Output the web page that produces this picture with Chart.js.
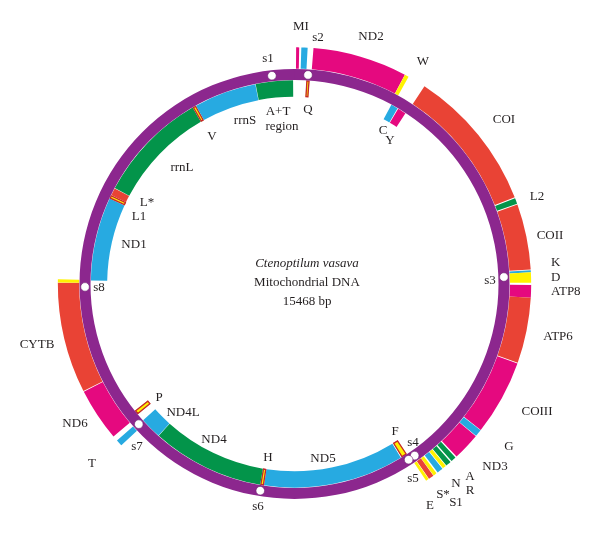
<!DOCTYPE html>
<html>
<head>
<meta charset="utf-8">
<script src="https://cdn.jsdelivr.net/npm/chart.js@4.4.0/dist/chart.umd.min.js"></script>
<style>
  html, body { margin: 0; background: #fff; }
</style>
</head>
<body>
<canvas id="map" width="600" height="549"></canvas>
<script>
const genomeLength = 15468;

// genes drawn outside the purple ring (start / end in bp, clockwise from top)
const outerNames = ['M', 'I', 'ND2', 'W', 'COI', 'L2', 'COII', 'K', 'D', 'ATP8', 'ATP6', 'COIII', 'G', 'ND3',
                    'A', 'R', 'N', 'S1', 'S*', 'E', 'e2', 'T', 'ND6', 'CYTB', 'S2'];
const outerStart = [17, 71, 198, 1196, 1431, 2953, 3024, 3724, 3746, 3877, 4010, 4709, 5508, 5586,
                    5893, 5962, 6026, 6072, 6150, 6190, 6251, 9754, 9878, 10445, 11616];
const outerEnd   = [49, 137, 1194, 1238, 2943, 3014, 3716, 3746, 3854, 4009, 4701, 5504, 5582, 5878,
                    5948, 6018, 6064, 6134, 6186, 6246, 6282, 9822, 10437, 11614, 11651];
const outerKind  = ['mag', 'blue', 'mag', 'yel', 'red', 'green', 'red', 'blue', 'yel', 'mag', 'red', 'mag', 'blue', 'mag',
                    'green', 'green', 'yel', 'blue', 'yel', 'red', 'yel', 'blue', 'mag', 'red', 'yel'];

// genes drawn inside the purple ring
const innerNames = ['Q', 'C', 'Y', 'F', 'ND5', 'H', 'ND4', 'ND4L', 'P', 'ND1', 'L1', 'L*', 'rrnL', 'V', 'rrnS', 'A+T'];
const innerStart = [146, 1220, 1315, 6299, 6381, 8108, 8151, 9534, 9895, 11644, 12671, 12714, 12808, 14183, 14226, 14995];
const innerEnd   = [180, 1306, 1418, 6368, 8104, 8147, 9530, 9797, 9947, 12667, 12710, 12804, 14179, 14222, 14991, 15451];
const innerKind  = ['yr', 'blue', 'mag', 'yr', 'blue', 'yr', 'green', 'blue', 'yr', 'blue', 'yr', 'red', 'green', 'yr', 'blue', 'green'];

// intergenic spacers s1..s8 (bp)
const spacerNames = ['s1', 's2', 's3', 's4', 's5', 's6', 's7', 's8'];
const spacerPos   = [15202, 159, 3785, 6230, 6316, 8138, 9797, 11567];

const fills = {
  mag: '#e5097f', red: '#e94335', blue: '#27aae1', green: '#03944a', yel: '#fff200', yr: '#fff200'
};
const purple = '#8c278e';

// text labels, placed relative to the ring centre
const labelText = ['MI', 's2', 's1', 'ND2', 'W', 'Q', 'A+T', 'region', 'rrnS', 'V', 'rrnL', 'L*', 'L1', 'ND1', 's8',
  'CYTB', 'ND6', 'T', 's7', 'P', 'ND4L', 'ND4', 'H', 'ND5', 's6', 'F', 's4', 's5', 'E', 'S*', 'S1', 'N', 'A', 'R',
  'ND3', 'G', 'COIII', 'ATP6', 'ATP8', 'D', 'K', 's3', 'COII', 'L2', 'COI', 'C', 'Y'];
const labelDx = [6.5, 23.5, -26.5, 76.5, 128.5, 13.5, -16.5, -12.5, -49.5, -82.5, -112.5, -147.5, -155.5, -160.5, -195.5,
  -257.5, -219.5, -202.5, -157.5, -135.5, -111.5, -80.5, -26.5, 28.5, -36.5, 100.5, 118.5, 118.5, 135.5, 148.5, 161.5, 161.5, 175.5, 175.5,
  200.5, 214.5, 242.5, 263.5, 256.5, 256.5, 256.5, 195.5, 255.5, 242.5, 209.5, 88.5, 95.5];
const labelDy = [-257, -246, -225, -247, -222, -174, -172, -157, -163, -147, -116, -81, -67, -39, 4,
  61, 140, 180, 163, 114, 129, 156, 174, 175, 223, 148, 159, 195, 222, 211, 219, 200, 193, 207,
  183, 163, 128, 53, 8, -6, -21, -3, -48, -87, -164, -153, -143];
const leftAligned = ['ATP8', 'D', 'K'];

const centerText = ['Ctenoptilum vasava', 'Mitochondrial DNA', '15468 bp'];

function ringData(starts, ends, kinds) {
  const vals = [], cols = [], edges = [];
  let pos = 0;
  starts.forEach((s, i) => {
    if (s > pos) { vals.push(s - pos); cols.push('rgba(0,0,0,0)'); edges.push(false); }
    vals.push(ends[i] - s);
    cols.push(fills[kinds[i]]);
    edges.push(kinds[i] === 'yr');
    pos = ends[i];
  });
  if (pos < genomeLength) { vals.push(genomeLength - pos); cols.push('rgba(0,0,0,0)'); edges.push(false); }
  return { vals, cols, edges };
}

const outer = ringData(outerStart, outerEnd, outerKind);
const inner = ringData(innerStart, innerEnd, innerKind);

const outerR = 237, innerR = 187;

function ringDataset(r, weight) {
  return {
    data: r.vals,
    backgroundColor: r.cols,
    borderColor: r.edges.map(e => e ? '#c4262e' : 'rgba(0,0,0,0)'),
    borderWidth: r.edges.map(e => e ? 1 : 0),
    borderAlign: 'inner',
    weight: weight
  };
}

const overlay = {
  id: 'overlay',
  afterDatasetsDraw(chart) {
    const ctx = chart.ctx;
    const ring = chart.getDatasetMeta(1).data[0];
    const cx = ring.x, cy = ring.y;
    const rMid = (ring.innerRadius + ring.outerRadius) / 2;
    ctx.save();
    spacerPos.forEach(bp => {
      const a = -Math.PI / 2 + bp / genomeLength * 2 * Math.PI;
      ctx.beginPath();
      ctx.arc(cx + rMid * Math.cos(a), cy + rMid * Math.sin(a), 4.3, 0, 2 * Math.PI);
      ctx.fillStyle = '#fff';
      ctx.fill();
      ctx.lineWidth = 0.6;
      ctx.strokeStyle = '#6d1f70';
      ctx.stroke();
    });

    ctx.fillStyle = '#231f20';
    ctx.textBaseline = 'middle';
    ctx.font = '13px "Liberation Serif"';
    labelText.forEach((t, i) => {
      ctx.textAlign = leftAligned.includes(t) ? 'left' : 'center';
      ctx.fillText(t, cx + labelDx[i], cy + labelDy[i]);
    });

    ctx.textAlign = 'center';
    centerText.forEach((t, i) => {
      ctx.font = (i === 0 ? 'italic ' : '') + '13px "Liberation Serif"';
      ctx.fillText(t, cx + 12.5, cy - 20 + i * 19);
    });
    ctx.restore();
  }
};

new Chart(document.getElementById('map'), {
  type: 'doughnut',
  data: {
    labels: outer.vals.map((v, i) => i),
    datasets: [
      ringDataset(outer, 22),
      { data: [genomeLength], backgroundColor: purple, borderWidth: 0, weight: 11, order: -1 },
      ringDataset(inner, 17)
    ]
  },
  options: {
    responsive: false,
    animation: false,
    events: [],
    radius: outerR,
    cutout: (innerR / outerR * 100) + '%',
    layout: { padding: { left: 0, right: 11, top: 19, bottom: 0 } },
    plugins: { legend: { display: false }, tooltip: { enabled: false } }
  },
  plugins: [overlay]
});
</script>
</body>
</html>
